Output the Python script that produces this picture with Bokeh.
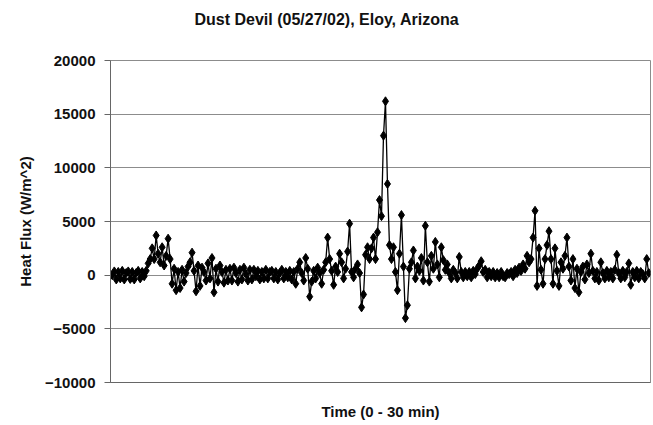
import numpy as np
from bokeh.plotting import figure
from bokeh.models import Range1d, FixedTicker, BasicTickFormatter, Title
from bokeh.embed import file_html
from bokeh.resources import INLINE

# Heat flux (W/m^2), evenly spaced over 0-30 min
heat_flux = [
    0, 350, -400, 300, -300, 400, -400, 200, 350, -350,
    300, -400, 200, 400, -300, 300, -100, 400, 1100, 1500,
    2500, 1500, 3700, 2000, 1200, 2600, 900, 1800, 3400, 1500,
    -800, 600, -1400, 300, -1200, 500, -600, 200, 800, 1200,
    2100, 400, -1500, 900, -1000, 700, 300, -500, 1100, -300,
    1600, -1600, 600, -600, 900, 300, -700, 500, -500, 600,
    -500, 700, 200, -600, 500, -400, 700, 100, -500, 500,
    -400, 500, -100, 400, -400, 300, -300, 500, -300, 300,
    400, -300, 300, -400, 200, 500, -300, 300, -200, 400,
    -400, 300, -800, 600, 1200, 200, -500, 1600, 600, -2000,
    -600, 400, -300, 700, 200, -800, 500, 1200, 3500, 1500,
    400, -900, 800, 300, 2000, 1200, -300, 600, 2200, 4800,
    300, -200, 600, 1000, 200, -3000, -1800, 1900, 2600, 1500,
    2500, 3500, 1500, 4000, 7000, 5500, 13000, 16200, 8500, 2800,
    1500, 2600, 300, -1400, 2000, 5600, 800, -4000, -2800, 600,
    1200, 2300, -300, 800, 400, 1600, -500, 4600, 1200, -600,
    1800, 600, 3100, 1000, -200, 2600, 1400, 500, 1000, 200,
    -300, 500, 200, -300, 1700, 300, -200, 300, -100, 300,
    -200, 400, 100, 600, 900, 1300, 300, 500, -200, 300,
    -100, 300, -200, 200, -200, 300, -100, -200, 200, 100,
    300, -100, 500, 200, 700, 400, 1000, 600, 1800, 1200,
    1500, 3500, 6000, -1000, 2500, 500, -800, 1500, 2800, 4100,
    1500, -800, 2500, 400, -1000, 1200, 600, 1800, 3500, 800,
    -500, 1500, -1200, 600, -1600, 300, 800, -400, 1000, 200,
    2000, 400, -300, 300, -500, 1200, 200, -300, 400, -200,
    300, -300, 500, 1900, 200, -300, 400, -200, 300, 1100,
    -900, 300, -200, 400, -300, 300, 100, -300, 1500, 200,
]
time_min = np.linspace(0, 30, len(heat_flux))
y_ticks = [-10000, -5000, 0, 5000, 10000, 15000, 20000]
title_text = "Dust Devil (05/27/02), Eloy, Arizona"

FONT = "Liberation Sans"

p = figure(width=653, height=425, output_backend="svg", toolbar_location=None,
           x_range=Range1d(-0.1, 30.1), y_range=Range1d(-10000, 20000),
           min_border_left=110, min_border_right=3, min_border_top=60,
           min_border_bottom=43, background_fill_color="white",
           border_fill_color="white")

p.title.text = ""
p.title.text_font_size = "1px"
p.title.standoff = 0

# empty spacer panel between the frame and the title
spacer = Title(text=" ", text_font=FONT, text_font_size="10px", standoff=20)
p.add_layout(spacer, "above")
main_title = Title(text=title_text, align="left", offset=84, standoff=0,
                   text_font=FONT, text_font_size="16px",
                   text_font_style="bold", text_color="#111111")
p.add_layout(main_title, "above")

p.outline_line_color = "#8c8c8c"
p.xgrid.grid_line_color = None
p.ygrid.grid_line_color = "#8c8c8c"
p.ygrid.grid_line_width = 1

p.yaxis.ticker = FixedTicker(ticks=y_ticks)
p.yaxis.formatter = BasicTickFormatter(use_scientific=False)
p.yaxis.axis_label = "Heat Flux (W/m^2)"
p.yaxis.axis_label_standoff = 8
p.yaxis.major_label_standoff = 9
p.yaxis.major_tick_out = 6
p.yaxis.major_tick_in = 0
p.yaxis.minor_tick_line_color = None

p.xaxis.ticker = FixedTicker(ticks=[])
p.xaxis.axis_label = "Time (0 - 30 min)"
p.xaxis.axis_label_standoff = 20
p.xaxis.major_tick_line_color = None
p.xaxis.minor_tick_line_color = None

for ax in (p.xaxis[0], p.yaxis[0]):
    ax.axis_line_color = "#666666"
    ax.major_tick_line_color = "#666666" if ax is p.yaxis[0] else None
    ax.axis_label_text_font = FONT
    ax.axis_label_text_font_size = "15px"
    ax.axis_label_text_font_style = "bold"
    ax.axis_label_text_color = "#111111"
    ax.major_label_text_font = FONT
    ax.major_label_text_font_size = "15px"
    ax.major_label_text_font_style = "bold"
    ax.major_label_text_color = "#111111"

p.line(time_min, heat_flux, line_color="black", line_width=1.3)
p.scatter(time_min, heat_flux, marker="diamond", size=9, color="black")

open("out.html", "w").write(file_html(p, INLINE))
